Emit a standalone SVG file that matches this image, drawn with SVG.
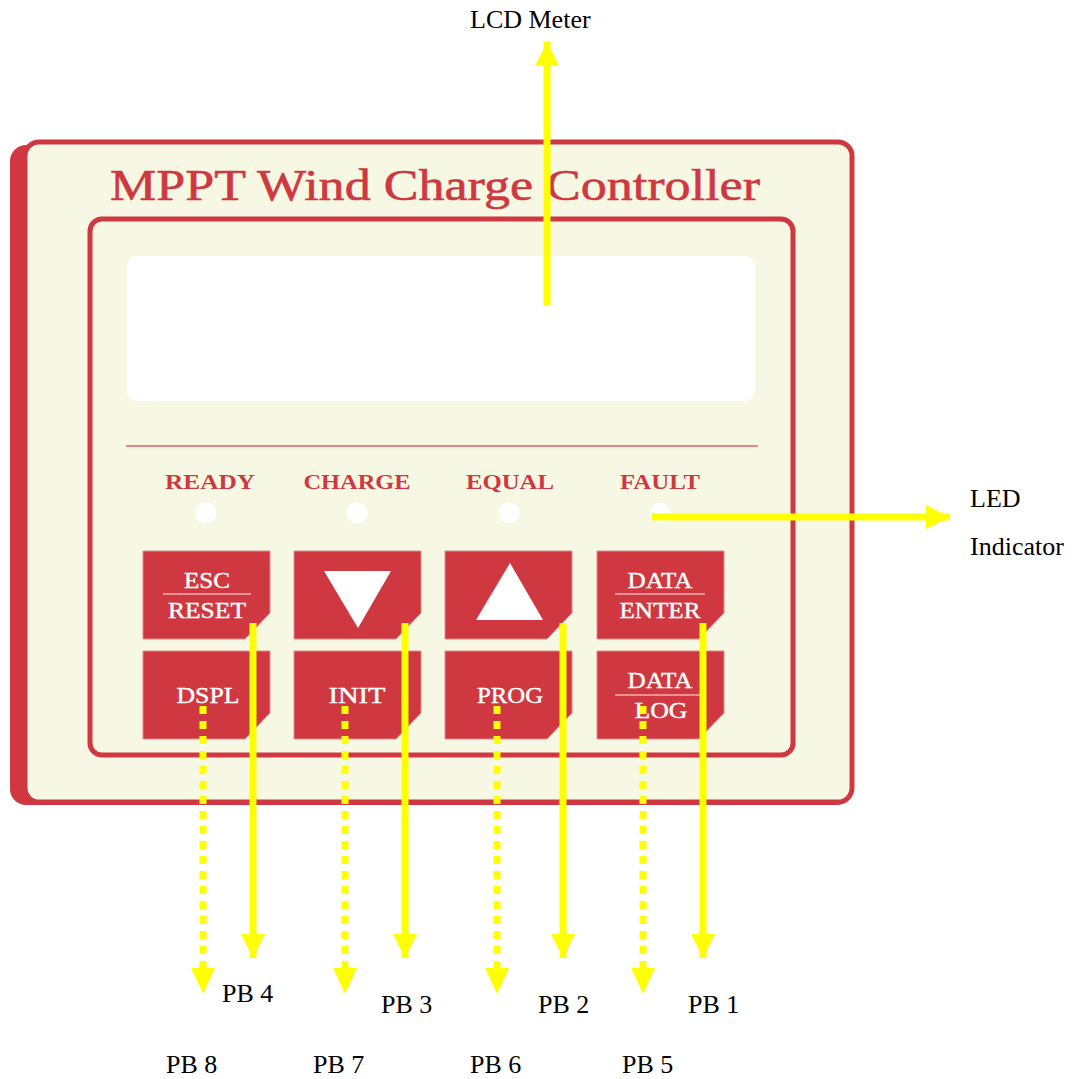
<svg xmlns="http://www.w3.org/2000/svg" width="1083" height="1079" viewBox="0 0 1083 1079">
<defs>
<style>
.red{fill:#CF3840}
.panel{fill:#F7F8E4;stroke:#CF3840;stroke-width:5}
.btn{fill:#CF3840;stroke:#E08A8C;stroke-width:1}
.bt{font-family:"Liberation Serif",serif;font-size:23px;fill:#fff;text-anchor:middle;stroke:#fff;stroke-width:0.4}
.led{font-family:"Liberation Serif",serif;font-size:22px;font-weight:bold;fill:#CF3840;text-anchor:middle}
.lbl{font-family:"Liberation Serif",serif;font-size:26px;fill:#000}
.y{stroke:#FFFF00;stroke-width:7;fill:none}
.yd{stroke:#FFFF00;stroke-width:7;fill:none;stroke-dasharray:8 7}
.wl{stroke:#F0B0B0;stroke-width:1.5}
</style>
<marker id="ah" markerUnits="userSpaceOnUse" markerWidth="26" markerHeight="26" refX="24" refY="12" orient="auto"><path d="M0,0 L24,12 L0,24 Z" fill="#FFFF00"/></marker>
</defs>
<rect width="1083" height="1079" fill="#fff"/>
<g id="controller">
<rect x="10" y="145" width="842" height="660" rx="16" class="red"/>
<rect x="25" y="142" width="827" height="660" rx="14" class="panel"/>
<text x="435" y="200" font-family="Liberation Serif,serif" font-size="44" fill="#CF3840" stroke="#CF3840" stroke-width="0.6" text-anchor="middle" textLength="650" lengthAdjust="spacingAndGlyphs">MPPT Wind Charge Controller</text>
<rect x="90" y="219" width="703" height="536" rx="12" class="panel"/>
<rect x="127" y="256" width="628" height="145" rx="10" fill="#fff"/>
<line x1="126" y1="446" x2="758" y2="446" stroke="#E06066" stroke-width="1.5"/>
</g>
<g id="leds">
<text x="210" y="489" class="led" textLength="90" lengthAdjust="spacingAndGlyphs">READY</text>
<text x="357" y="489" class="led" textLength="107" lengthAdjust="spacingAndGlyphs">CHARGE</text>
<text x="510" y="489" class="led" textLength="88" lengthAdjust="spacingAndGlyphs">EQUAL</text>
<text x="660" y="489" class="led" textLength="80" lengthAdjust="spacingAndGlyphs">FAULT</text>
<circle cx="206" cy="513" r="10.5" fill="#fff"/>
<circle cx="357" cy="513" r="10.5" fill="#fff"/>
<circle cx="509" cy="513" r="10.5" fill="#fff"/>
<circle cx="660" cy="513" r="10.5" fill="#fff"/>
</g>
<g id="btn-esc">
<path d="M143,551 H270 V613 L245,639 H143 Z" class="btn"/>
<text x="207" y="588" class="bt" textLength="46" lengthAdjust="spacingAndGlyphs">ESC</text>
<line x1="163" y1="594" x2="251" y2="594" class="wl"/>
<text x="207" y="618" class="bt" textLength="78" lengthAdjust="spacingAndGlyphs">RESET</text>
</g>
<g id="btn-down">
<path d="M294,551 H421 V613 L396,639 H294 Z" class="btn"/>
<polygon points="324,571 391,571 358,628" fill="#fff"/>
</g>
<g id="btn-up">
<path d="M445,551 H572 V613 L547,639 H445 Z" class="btn"/>
<polygon points="476,620 543,620 510,563" fill="#fff"/>
</g>
<g id="btn-enter">
<path d="M597,551 H724 V613 L699,639 H597 Z" class="btn"/>
<text x="660" y="588" class="bt" textLength="65" lengthAdjust="spacingAndGlyphs">DATA</text>
<line x1="615" y1="594" x2="705" y2="594" class="wl"/>
<text x="660" y="618" class="bt" textLength="81" lengthAdjust="spacingAndGlyphs">ENTER</text>
</g>
<g id="btn-dspl">
<path d="M143,651 H270 V713 L245,739 H143 Z" class="btn"/>
<text x="208" y="703" class="bt" textLength="63" lengthAdjust="spacingAndGlyphs">DSPL</text>
</g>
<g id="btn-init">
<path d="M294,651 H421 V713 L396,739 H294 Z" class="btn"/>
<text x="357" y="703" class="bt" textLength="57" lengthAdjust="spacingAndGlyphs">INIT</text>
</g>
<g id="btn-prog">
<path d="M445,651 H572 V713 L547,739 H445 Z" class="btn"/>
<text x="510" y="703" class="bt" textLength="66" lengthAdjust="spacingAndGlyphs">PROG</text>
</g>
<g id="btn-log">
<path d="M597,651 H724 V713 L699,739 H597 Z" class="btn"/>
<text x="660" y="688" class="bt" textLength="65" lengthAdjust="spacingAndGlyphs">DATA</text>
<line x1="615" y1="695" x2="700" y2="695" class="wl"/>
<text x="661" y="718" class="bt" textLength="53" lengthAdjust="spacingAndGlyphs">LOG</text>
</g>
<g id="connectors">
<line x1="547" y1="305" x2="547" y2="42" class="y" marker-end="url(#ah)"/>
<line x1="652" y1="517" x2="950" y2="517" class="y" marker-end="url(#ah)"/>
<line x1="253" y1="623" x2="253" y2="958" class="y" marker-end="url(#ah)"/>
<line x1="405" y1="623" x2="405" y2="958" class="y" marker-end="url(#ah)"/>
<line x1="563" y1="623" x2="563" y2="958" class="y" marker-end="url(#ah)"/>
<line x1="703" y1="623" x2="703" y2="958" class="y" marker-end="url(#ah)"/>
<line x1="203" y1="706" x2="203" y2="970" class="yd"/>
<line x1="345" y1="706" x2="345" y2="970" class="yd"/>
<line x1="497" y1="706" x2="497" y2="970" class="yd"/>
<line x1="643" y1="706" x2="643" y2="970" class="yd"/>
<polygon points="191,968 215,968 203,994" fill="#FFFF00"/>
<polygon points="333,968 357,968 345,994" fill="#FFFF00"/>
<polygon points="485,968 509,968 497,994" fill="#FFFF00"/>
<polygon points="631,968 655,968 643,994" fill="#FFFF00"/>
</g>
<g id="labels">
<text x="470" y="28" class="lbl">LCD Meter</text>
<text x="970" y="507" class="lbl">LED</text>
<text x="970" y="555" class="lbl">Indicator</text>
<text x="222" y="1002" class="lbl">PB 4</text>
<text x="381" y="1013" class="lbl">PB 3</text>
<text x="538" y="1013" class="lbl">PB 2</text>
<text x="688" y="1013" class="lbl">PB 1</text>
<text x="166" y="1073" class="lbl">PB 8</text>
<text x="313" y="1073" class="lbl">PB 7</text>
<text x="470" y="1073" class="lbl">PB 6</text>
<text x="622" y="1073" class="lbl">PB 5</text>
</g>
</svg>
